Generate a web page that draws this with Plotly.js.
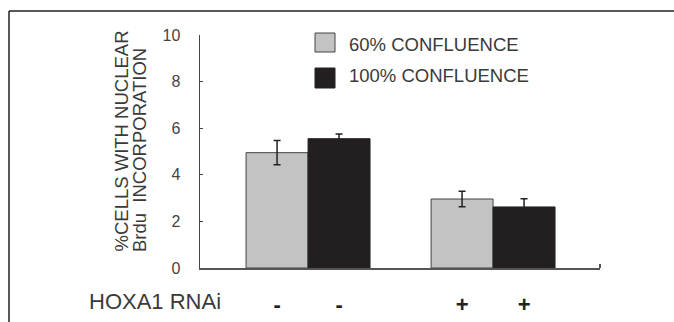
<!DOCTYPE html>
<html>
<head>
<meta charset="utf-8">
<script src="https://cdn.plot.ly/plotly-3.0.1.min.js"></script>
<style>html,body{margin:0;padding:0;background:#fff;}#chart{width:674px;height:322px;}</style>
</head>
<body>
<div id="chart"></div>
<script>
// ---- data ----
var rnaiConditions = ['-', '+'];           // HOXA1 RNAi per group
var seriesNames = ['60% CONFLUENCE', '100% CONFLUENCE'];
var conf60 = [4.95, 2.96];
var conf60Err = [0.52, 0.33];
var conf100 = [5.55, 2.62];
var conf100Err = [0.2, 0.35];
var yTickVals = [0, 2, 4, 6, 8, 10];
var rowLabel = 'HOXA1 RNAi';
var yTitleLines = ['%CELLS WITH NUCLEAR', 'Brdu  INCORPORATION'];

var seriesColors = ['#c3c3c3', '#231f20'];
var groupIdx = rnaiConditions.map(function (_, i) { return i; });
var bargap = 0.33;
var half = (1 - bargap) / 4;

var txtColor = '#3a3a3a';
var font = 'Liberation Sans, Arial, sans-serif';

var traces = [
  {type: 'bar', name: seriesNames[0], x: groupIdx, y: conf60,
   marker: {color: seriesColors[0], line: {color: '#444', width: 1}},
   error_y: {type: 'data', array: conf60Err, visible: true, color: '#222', thickness: 1.5, width: 3.5}},
  {type: 'bar', name: seriesNames[1], x: groupIdx, y: conf100,
   marker: {color: seriesColors[1], line: {color: '#222', width: 1}},
   error_y: {type: 'data', array: conf100Err, visible: true, color: '#222', thickness: 1.5, width: 3.5}}
];

var tickVals = [], tickText = [];
groupIdx.forEach(function (g, i) {
  tickVals.push(g - half, g + half);
  tickText.push(rnaiConditions[i], rnaiConditions[i]);
});

function px2x(p) { return (p - 200) / 400; }
function py2y(p) { return (268 - p) / 233; }

var annotations = [
  {xref: 'paper', yref: 'paper', x: px2x(155), y: py2y(301), text: rowLabel, showarrow: false,
   font: {family: font, size: 22, color: txtColor}, xanchor: 'center', yanchor: 'middle'},
  {xref: 'paper', yref: 'paper', x: px2x(121), y: py2y(254), text: yTitleLines[0], showarrow: false,
   textangle: -90, font: {family: font, size: 18.5, color: txtColor}, xanchor: 'center', yanchor: 'bottom'},
  {xref: 'paper', yref: 'paper', x: px2x(139), y: py2y(254), text: yTitleLines[1], showarrow: false,
   textangle: -90, font: {family: font, size: 18.5, color: txtColor}, xanchor: 'center', yanchor: 'bottom'},
  {xref: 'paper', yref: 'paper', x: px2x(347), y: py2y(45), text: seriesNames[0], showarrow: false,
   font: {family: font, size: 18.5, color: txtColor}, xanchor: 'left', yanchor: 'middle'},
  {xref: 'paper', yref: 'paper', x: px2x(347), y: py2y(75), text: seriesNames[1], showarrow: false,
   font: {family: font, size: 18.5, color: txtColor}, xanchor: 'left', yanchor: 'middle'}
];

var shapes = [
  // legend swatches
  {type: 'rect', xref: 'paper', yref: 'paper', x0: px2x(315), x1: px2x(335), y0: py2y(52), y1: py2y(33),
   fillcolor: seriesColors[0], line: {color: '#444', width: 1}},
  {type: 'rect', xref: 'paper', yref: 'paper', x0: px2x(315), x1: px2x(335), y0: py2y(88), y1: py2y(68),
   fillcolor: seriesColors[1], line: {color: '#222', width: 1}},
  // frame
  {type: 'line', xref: 'paper', yref: 'paper', x0: px2x(9), x1: px2x(680), y0: py2y(11), y1: py2y(11),
   line: {color: '#222', width: 1.5}},
  {type: 'line', xref: 'paper', yref: 'paper', x0: px2x(9), x1: px2x(9), y0: py2y(11), y1: py2y(330),
   line: {color: '#222', width: 1.5}}
];

var layout = {
  width: 674, height: 322,
  margin: {l: 200, r: 74, t: 35, b: 54, pad: 0},
  paper_bgcolor: '#fff', plot_bgcolor: '#fff',
  showlegend: false,
  barmode: 'group', bargap: bargap, bargroupgap: 0,
  xaxis: {
    range: [-0.584, 1.578], showgrid: false, zeroline: false,
    showline: true, linecolor: '#555', linewidth: 1.5,
    tickmode: 'array', tickvals: tickVals, ticktext: tickText, ticks: '',
    ticklabelstandoff: 16,
    tickfont: {family: font, size: 22, color: '#222', weight: 'bold'},
    minor: {tickmode: 'array', tickvals: [1.578], ticks: 'inside', ticklen: 4, tickcolor: '#555', tickwidth: 1.5}
  },
  yaxis: {
    range: [0, 10], showgrid: false, zeroline: false,
    showline: true, linecolor: '#444', linewidth: 1.5,
    tickmode: 'array', tickvals: yTickVals, ticks: 'inside', ticklen: 3, tickcolor: '#444', tickwidth: 1,
    ticklabelstandoff: 15,
    tickfont: {family: 'Liberation Sans Narrow, Arial Narrow, Liberation Sans, sans-serif', size: 16, color: '#444'}
  },
  annotations: annotations,
  shapes: shapes
};

Plotly.newPlot('chart', traces, layout, {staticPlot: true, displayModeBar: false});
</script>
</body>
</html>
